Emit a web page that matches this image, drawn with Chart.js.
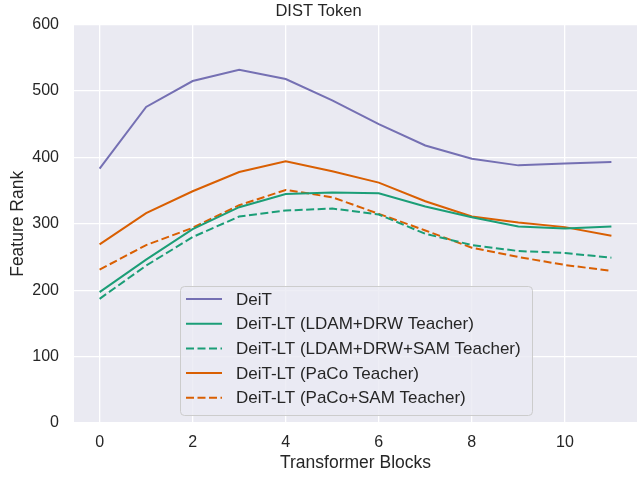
<!DOCTYPE html>
<html>
<head>
<meta charset="utf-8">
<script src="https://cdn.jsdelivr.net/npm/chart.js@4"></script>
<style>
  html, body { margin: 0; padding: 0; background: #fff; }
  #wrap { width: 639px; height: 478px; }
</style>
</head>
<body>
<div id="wrap"><canvas id="chart" width="639" height="478"></canvas></div>
<script>
// blocks along the x axis
var blocks = [0, 1, 2, 3, 4, 5, 6, 7, 8, 9, 10, 11];
var xTicks = [0, 2, 4, 6, 8, 10];
var yTicks = [0, 100, 200, 300, 400, 500, 600];

// feature rank per block
var deit        = [383, 476, 515, 532, 518, 486, 450, 418, 398, 388, 391, 393];
var ldamDrw     = [197, 246, 292, 325, 345, 347, 346, 326, 310, 296, 293, 296];
var ldamDrwSam  = [187, 237, 280, 311, 320, 323, 314, 285, 268, 259, 256, 249];
var paco        = [269, 316, 349, 378, 394, 379, 362, 334, 311, 302, 295, 282];
var pacoSam     = [231, 268, 294, 328, 351, 340, 315, 290, 264, 250, 238, 229];

var seriesNames = [
    'DeiT',
    'DeiT-LT (LDAM+DRW Teacher)',
    'DeiT-LT (LDAM+DRW+SAM Teacher)',
    'DeiT-LT (PaCo Teacher)',
    'DeiT-LT (PaCo+SAM Teacher)'
];

var PURPLE = '#7570b3', GREEN = '#1b9e77', ORANGE = '#d95f02';
var TEXT = '#262626';
var FONT = "'Liberation Sans', Arial, sans-serif";

function toPoints(values) {
    return values.map(function (v, i) { return { x: blocks[i], y: v }; });
}

function line(label, values, color, dashed) {
    return {
        label: label,
        data: toPoints(values),
        borderColor: color,
        backgroundColor: color,
        borderWidth: 2,
        borderDash: dashed ? [8, 3.5] : [],
        pointRadius: 0,
        tension: 0,
        fill: false
    };
}

// plot background like seaborn darkgrid
var plotBg = {
    id: 'plotBg',
    beforeDraw: function (chart) {
        var a = chart.chartArea, ctx = chart.ctx;
        ctx.save();
        ctx.fillStyle = '#eaeaf2';
        ctx.fillRect(a.left, a.top, a.right - a.left, a.bottom - a.top);
        ctx.restore();
    }
};

// legend inside the axes, drawn from the datasets
var innerLegend = {
    id: 'innerLegend',
    afterDatasetsDraw: function (chart) {
        var ctx = chart.ctx;
        var x0 = 180, y0 = 286, w = 352, h = 129, r = 4;
        ctx.save();
        ctx.beginPath();
        ctx.roundRect(x0 + 0.5, y0 + 0.5, w, h, r);
        ctx.fillStyle = 'rgba(234,234,242,0.8)';
        ctx.fill();
        ctx.strokeStyle = '#cccccc';
        ctx.lineWidth = 1;
        ctx.stroke();
        ctx.font = '17px ' + FONT;
        ctx.textBaseline = 'middle';
        chart.data.datasets.forEach(function (ds, i) {
            var yy = 299 + i * 24.7;
            ctx.beginPath();
            ctx.setLineDash(ds.borderDash);
            ctx.strokeStyle = ds.borderColor;
            ctx.lineWidth = 2;
            ctx.moveTo(186, yy);
            ctx.lineTo(222, yy);
            ctx.stroke();
            ctx.setLineDash([]);
            ctx.fillStyle = TEXT;
            ctx.fillText(ds.label, 236, yy + 1);
        });
        ctx.restore();
    }
};

new Chart(document.getElementById('chart'), {
    type: 'line',
    data: {
        datasets: [
            line(seriesNames[0], deit, PURPLE, false),
            line(seriesNames[1], ldamDrw, GREEN, false),
            line(seriesNames[2], ldamDrwSam, GREEN, true),
            line(seriesNames[3], paco, ORANGE, false),
            line(seriesNames[4], pacoSam, ORANGE, true)
        ]
    },
    options: {
        responsive: false,
        animation: false,
        layout: { padding: { right: 2 } },
        plugins: {
            legend: { display: false },
            tooltip: { enabled: false },
            title: {
                display: true,
                text: 'DIST Token',
                color: TEXT,
                font: { family: FONT, size: 16.5, weight: 'normal' },
                padding: { top: 1, bottom: 3 }
            }
        },
        scales: {
            x: {
                type: 'linear',
                min: -0.55,
                max: 11.55,
                afterBuildTicks: function (scale) {
                    scale.ticks = xTicks.map(function (v) { return { value: v }; });
                },
                afterFit: function (scale) { scale.height = 55; },
                grid: { color: '#ffffff', lineWidth: 1.3, drawTicks: false },
                border: { display: false },
                ticks: {
                    color: TEXT,
                    padding: 10,
                    maxRotation: 0,
                    font: { family: FONT, size: 16 }
                },
                title: {
                    display: true,
                    text: 'Transformer Blocks',
                    color: TEXT,
                    font: { family: FONT, size: 17.5 },
                    padding: { top: 0 }
                }
            },
            y: {
                min: 0,
                max: 600,
                afterBuildTicks: function (scale) {
                    scale.ticks = yTicks.map(function (v) { return { value: v }; });
                },
                afterFit: function (scale) { scale.width = 74; },
                grid: { color: '#ffffff', lineWidth: 1.3, drawTicks: false },
                border: { display: false },
                ticks: {
                    color: TEXT,
                    padding: 15,
                    font: { family: FONT, size: 16 }
                },
                title: {
                    display: true,
                    text: 'Feature Rank',
                    color: TEXT,
                    font: { family: FONT, size: 17.5 },
                    padding: { top: 8, bottom: 0 }
                }
            }
        }
    },
    plugins: [plotBg, innerLegend]
});
</script>
</body>
</html>
